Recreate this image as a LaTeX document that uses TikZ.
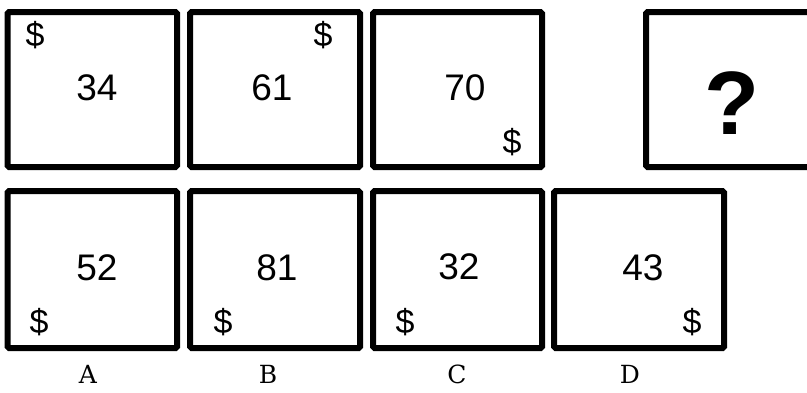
\documentclass[tikz,border=0pt]{standalone}
\usepackage{fontspec}
\setmainfont{Liberation Sans}
\newfontfamily\lblfont{DejaVu Serif}
\begin{document}
\begin{tikzpicture}[x=1pt,y=-1pt,
  card/.style={draw=black,line width=6pt,rounded corners=1.5pt},
  num/.style={inner sep=0pt,font=\fontsize{37}{37}\selectfont},
  dol/.style={inner sep=0pt,font=\fontsize{34}{34}\selectfont},
  qmark/.style={inner sep=0pt,font=\fontsize{90}{90}\selectfont\bfseries},
  lbl/.style={inner sep=0pt,font=\fontsize{25}{25}\lblfont}]
\useasboundingbox (0,0) rectangle (807,392);
\begin{scope}
\clip (0,0) rectangle (807,392);
% top row
\draw[card] (7.5,12) rectangle (177,167);
\draw[card] (190,12) rectangle (360,167);
\draw[card] (373,12) rectangle (542,167);
\draw[card] (646,12) rectangle (815,167);
% bottom row
\draw[card] (7.5,191) rectangle (177,348);
\draw[card] (190,191) rectangle (360,348);
\draw[card] (373,191) rectangle (542,348);
\draw[card] (554,191) rectangle (724,348);
\end{scope}
% top row texts
\node[num] (t1) at (97,88) {34};
\node[dol] (t1d) at (35,35) {\$};
\node[num] (t2) at (272,88) {61};
\node[dol] (t2d) at (323,35) {\$};
\node[num] (t3) at (465,88) {70};
\node[dol] (t3d) at (512,142) {\$};
\node[qmark] (t4) at (732,103) {?};
% bottom row texts
\node[num] (bA) at (97,268) {52};
\node[dol] (bAd) at (39,322) {\$};
\node[num] (bB) at (277,268) {81};
\node[dol] (bBd) at (223,322) {\$};
\node[num] (bC) at (459,267) {32};
\node[dol] (bCd) at (405,322) {\$};
\node[num] (bD) at (643,268) {43};
\node[dol] (bDd) at (692,322) {\$};
% labels
\node[lbl] (lA) at (88,374) {A};
\node[lbl] (lB) at (268,374) {B};
\node[lbl] (lC) at (457,374) {C};
\node[lbl] (lD) at (630,374) {D};
\end{tikzpicture}
\end{document}
